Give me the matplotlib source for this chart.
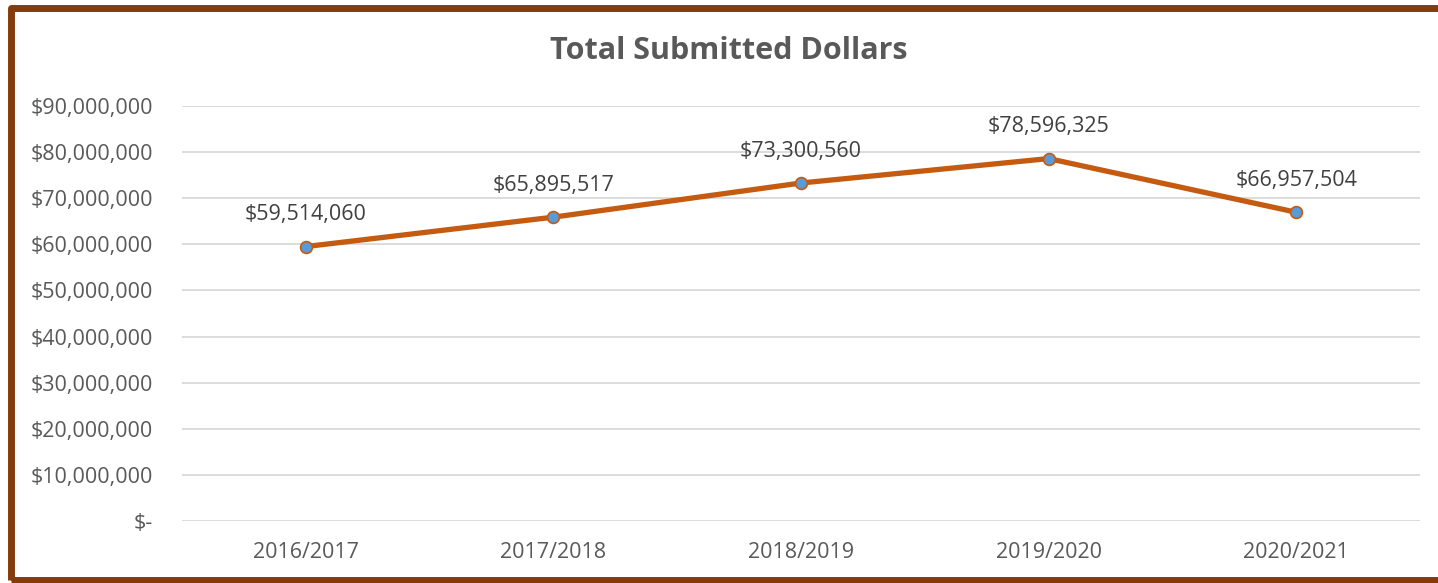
import matplotlib.pyplot as plt
from matplotlib.patches import Rectangle
from matplotlib.ticker import FuncFormatter

# Data
years = ['2016/2017', '2017/2018', '2018/2019', '2019/2020', '2020/2021']
dollars = [59514060, 65895517, 73300560, 78596325, 66957504]
y_ticks = [0, 10e6, 20e6, 30e6, 40e6, 50e6, 60e6, 70e6, 80e6, 90e6]

plt.rcParams['font.family'] = ['Open Sans', 'DejaVu Sans']
text_color = '#595959'

W, H = 1438, 583
fig = plt.figure(figsize=(W / 100, H / 100), dpi=100)
ax = fig.add_axes([182 / W, 1 - 521 / H, (1420 - 182) / W, (521 - 106) / H])

x = list(range(len(years)))
ax.plot(x, dollars, color='#C55A11', lw=3.8, marker='o', markersize=8.5,
        markerfacecolor='#5B9BD5', markeredgecolor='#C55A11', markeredgewidth=1.2,
        zorder=3)

for xi, v in zip(x, dollars):
    ax.annotate(f'${v:,}', (xi, v), xytext=(0, 23), textcoords='offset points',
                ha='center', va='center', fontsize=15.5, color='#404040')

ax.set_xlim(-0.5, len(years) - 0.5)
ax.set_ylim(0, 90e6)
ax.set_yticks(y_ticks)
ax.yaxis.set_major_formatter(FuncFormatter(lambda v, p: '$-' if v == 0 else f'${v:,.0f}'))
ax.set_xticks(x)
ax.set_xticklabels(years)
ax.grid(axis='y', color='#D9D9D9', lw=1.3)
ax.set_axisbelow(True)
for s in ax.spines.values():
    s.set_visible(False)
ax.tick_params(axis='both', length=0, labelsize=15.5, labelcolor=text_color)
ax.tick_params(axis='y', pad=21)
ax.tick_params(axis='x', pad=15)

fig.text(729 / W, 1 - 51 / H, 'Total Submitted Dollars', ha='center', va='center',
         fontsize=22, fontweight='bold', color=text_color)

# Brown outer border
fig.patches.append(Rectangle((10.5 / W, 1 - 580 / H), (1450 - 10.5) / W, (580 - 7.5) / H,
                             transform=fig.transFigure, fill=False, edgecolor='#843C0C',
                             lw=5, joinstyle='round'))

fig.savefig('out.png', dpi=100)
